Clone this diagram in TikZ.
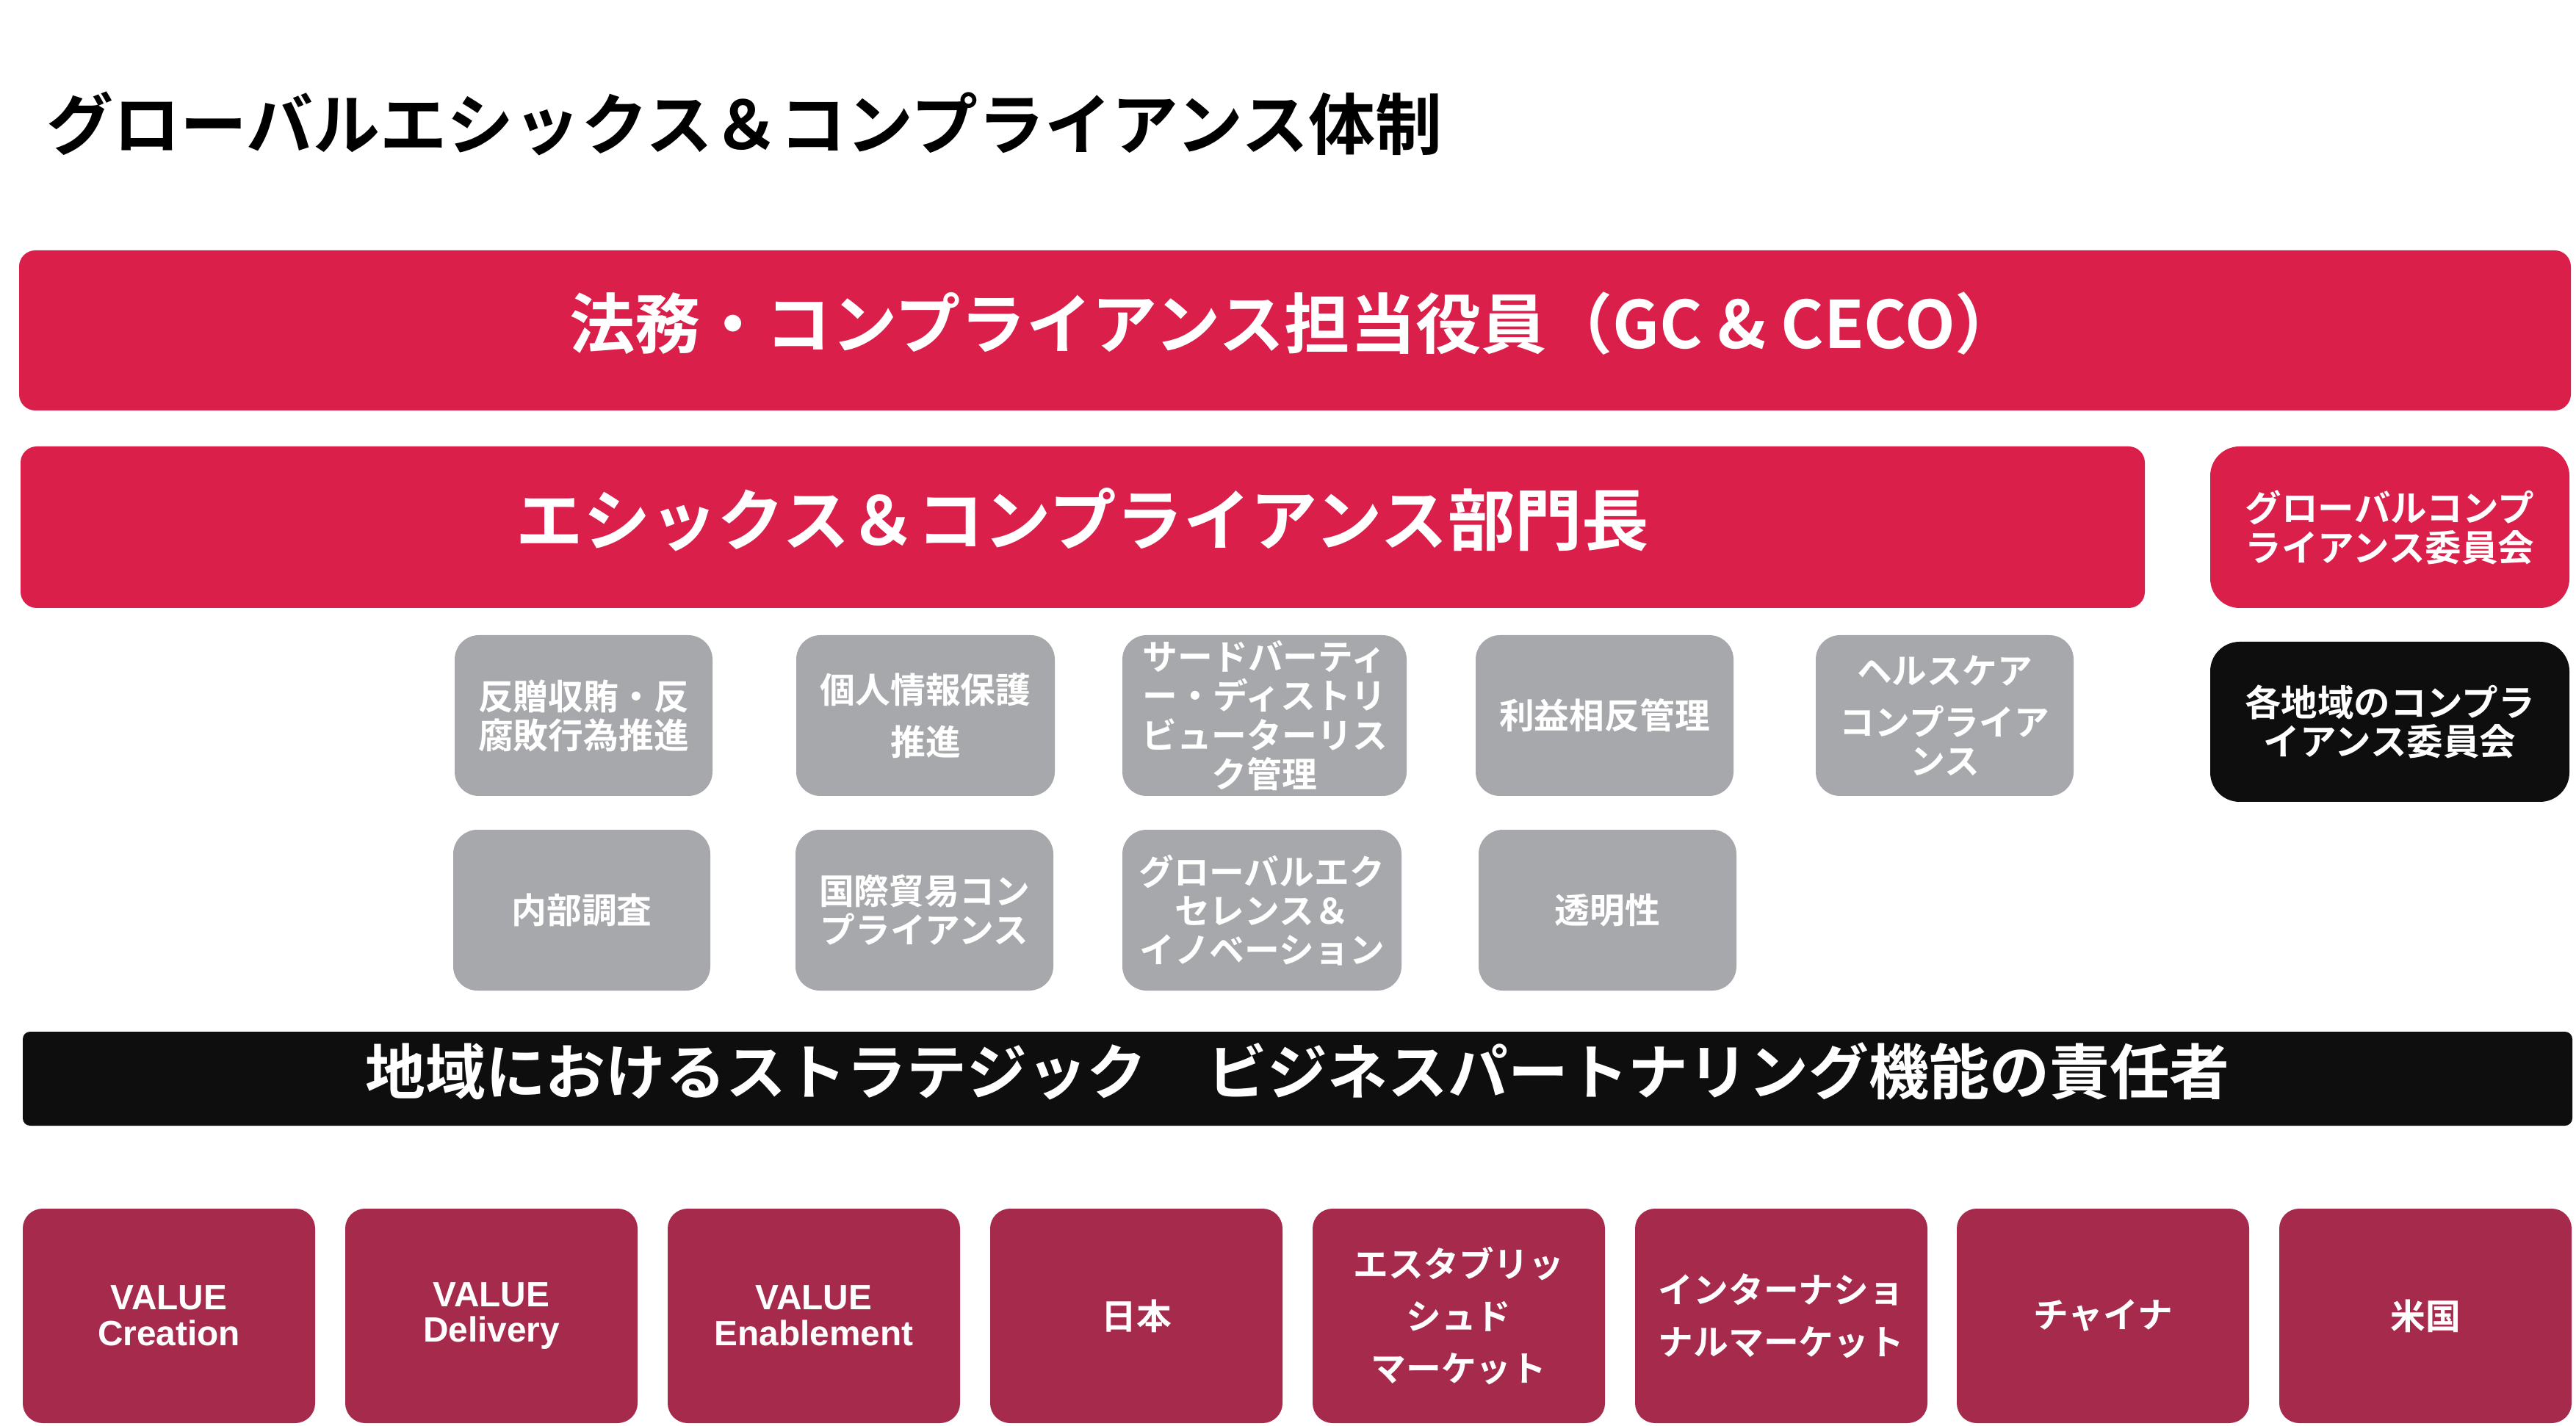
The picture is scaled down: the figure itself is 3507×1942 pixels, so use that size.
\documentclass[tikz,border=0pt]{standalone}
\usepackage{fontspec}
\usepackage{xcolor}
\setmainfont{Noto Sans CJK JP}[BoldFont={* Bold}]
\newfontfamily\latinfont{Liberation Sans}
\definecolor{ecred}{HTML}{D91F4A}
\definecolor{ecgray}{HTML}{A7A8AB}
\definecolor{ecblack}{HTML}{0E0E0E}
\definecolor{ecmaroon}{HTML}{A52A4C}
\usetikzlibrary{positioning}

\begin{document}
\begin{tikzpicture}[x=0.1mm, y=-0.1mm,
  box/.style={inner sep=0pt, align=center, text=white},
  bigfont/.style={font=\fontsize{25.4pt}{30pt}\selectfont\bfseries, text height=22.4pt, text depth=8.6pt},
  midfont/.style={font=\fontsize{14.1pt}{15.3pt}\selectfont\bfseries},
  smallfont/.style={font=\fontsize{13.6pt}{15.1pt}\selectfont\bfseries},
  redbox/.style={box, fill=ecred, rounded corners=2.2mm},
  sidebox/.style={box, fill=ecred, rounded corners=4mm, minimum width=48.9mm, minimum height=22mm, midfont},
  regionbox/.style={box, fill=ecblack, rounded corners=4mm, minimum width=48.9mm, minimum height=21.8mm, midfont},
  graybox/.style={box, fill=ecgray, rounded corners=3.3mm, minimum width=35.1mm, minimum height=21.9mm, smallfont},
  unitbox/.style={box, fill=ecmaroon, rounded corners=2.7mm, minimum width=39.8mm, minimum height=29.2mm, smallfont},
  valuetext/.style={font=\latinfont\fontsize{13.6pt}{13.9pt}\selectfont\bfseries}]

  \useasboundingbox (0,0) rectangle (3507,1942);

  \node[anchor=west, inner sep=0pt, font=\fontsize{25.9pt}{30pt}\selectfont\bfseries] (title) at (63,168) {グローバルエシックス＆コンプライアンス体制};

  \node[redbox, bigfont, minimum width=347.4mm, minimum height=21.8mm] (gc) at (1763,450) {法務・コンプライアンス担当役員（GC \& CECO）};
  \node[redbox, bigfont, font=\fontsize{26pt}{30pt}\selectfont\bfseries, minimum width=289.2mm, minimum height=22mm] (head) at (1474,718) {エシックス＆コンプライアンス部門長};
  \node[sidebox] (gcc) at (3253.5,718) {グローバルコンプ\\ライアンス委員会};
  \node[regionbox] (rcc) at (3253.5,983) {各地域のコンプラ\\イアンス委員会};

  \node[graybox] (abc) at (794.5,974.5) {反贈収賄・反\\腐敗行為推進};
  \node[graybox, minimum width=35.2mm] (privacy) at (1260,974.5) {個人情報保護\\[5pt]推進};
  \node[graybox, minimum width=38.7mm] (tprm) at (1721.5,974.5) {サードバーティ\\ー・ディストリ\\ビューターリス\\ク管理};
  \node[graybox] (coi) at (2184.5,974.5) {利益相反管理};
  \node[graybox] (health) at (2647.5,974.5) {ヘルスケア\\[5pt]コンプライア\\ンス};

  \node[graybox, minimum width=35mm] (invest) at (792,1239.5) {内部調査};
  \node[graybox] (trade) at (1258.5,1239.5) {国際貿易コン\\プライアンス};
  \node[graybox, minimum width=38mm] (gei) at (1718,1239.5) {グローバルエク\\セレンス＆\\イノベーション};
  \node[graybox] (transp) at (2188.5,1239.5) {透明性};

  \node[box, fill=ecblack, rounded corners=1mm, minimum width=347.1mm, minimum height=12.8mm, font=\fontsize{23.3pt}{28pt}\selectfont\bfseries, text height=20.5pt, text depth=8.2pt] (sbp) at (1766.5,1469) {地域におけるストラテジック　ビジネスパートナリング機能の責任者};

  \node[unitbox, valuetext] (vc) at (230,1792) {VALUE\\Creation};
  \node[unitbox, valuetext] (vd) at (669,1792) {VALUE\\Delivery};
  \node[unitbox, valuetext] (ve) at (1108,1792) {VALUE\\Enablement};
  \node[unitbox] (jp) at (1547,1792) {日本};
  \node[unitbox] (est) at (1986,1792) {エスタブリッ\\[5pt]シュド\\[5pt]マーケット};
  \node[unitbox] (intl) at (2425,1792) {インターナショ\\[5pt]ナルマーケット};
  \node[unitbox] (cn) at (2863,1792) {チャイナ};
  \node[unitbox] (us) at (3302,1792) {米国};
\end{tikzpicture}
\end{document}
